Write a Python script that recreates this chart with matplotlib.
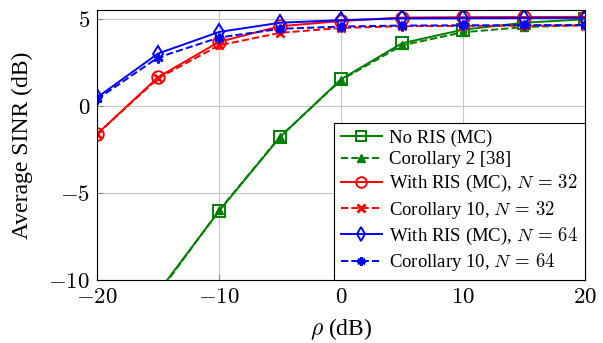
import matplotlib
matplotlib.use("Agg")
import matplotlib.pyplot as plt
import numpy as np

plt.rcParams['font.family'] = 'serif'
plt.rcParams['font.serif'] = ['Liberation Serif', 'DejaVu Serif']
plt.rcParams['mathtext.fontset'] = 'cm'

rho = [-20, -15, -10, -5, 0, 5, 10, 15, 20]
no_ris_mc = [-15.5, -10.7, -6.03, -1.78, 1.55, 3.62, 4.4, 4.8, 5.0]
cor2 = [-15.6, -10.8, -6.0, -1.75, 1.5, 3.5, 4.25, 4.55, 4.66]
ris32_mc = [-1.6, 1.67, 3.7, 4.6, 4.9, 5.1, 5.12, 5.13, 5.14]
cor10_32 = [-1.6, 1.6, 3.5, 4.22, 4.5, 4.6, 4.62, 4.63, 4.64]
ris64_mc = [0.5, 3.03, 4.27, 4.8, 4.95, 5.05, 5.06, 5.07, 5.08]
cor10_64 = [0.4, 2.8, 3.95, 4.45, 4.58, 4.64, 4.65, 4.66, 4.67]

xticks = [-20, -10, 0, 10, 20]
yticks = [-10, -5, 0, 5]
labels = ['No RIS (MC)', 'Corollary 2 [38]', r'With RIS (MC), $N\,=\,32$',
          r'Corollary 10, $N\,=\,32$', r'With RIS (MC), $N\,=\,64$', r'Corollary 10, $N\,=\,64$']

fig = plt.figure(figsize=(6.03, 3.43), dpi=100)
ax = fig.add_axes([0.161, 0.1837, 0.809, 0.788])

g = (0, 0.5, 0)
lw = 1.4
ax.plot(rho, no_ris_mc, '-', color=g, lw=lw, marker='s', ms=8.5, mfc='none', mew=1.4, label=labels[0])
ax.plot(rho, cor2, '--', color=g, lw=lw, marker='^', ms=6, mfc=g, label=labels[1])
ax.plot(rho, ris32_mc, '-', color='red', lw=lw, marker='o', ms=9, mfc='none', mew=1.4, label=labels[2])
ax.plot(rho, cor10_32, '--', color='red', lw=lw, marker='x', ms=6, mew=2, label=labels[3])
ax.plot(rho, ris64_mc, '-', color='blue', lw=lw, marker='d', ms=8.5, mfc='none', mew=1.4, label=labels[4])
ax.plot(rho, cor10_64, '--', color='blue', lw=lw, marker=(6, 2, 0), ms=7, mew=2, label=labels[5])

ax.set_xlim(-20, 20)
ax.set_ylim(-10, 5.55)
ax.set_xticks(xticks)
ax.set_xticklabels([r'$%d$' % v for v in xticks])
ax.set_yticks(yticks)
ax.set_yticklabels([r'$%d$' % v for v in yticks])
ax.grid(True, color='#c8c8c8', lw=0.8)
ax.set_axisbelow(True)
ax.tick_params(direction='in', labelsize=16.5, length=4, color='#888888', pad=5)
for s in ax.spines.values():
    s.set_linewidth(0.8)
ax.set_xlabel(r'$\rho$ (dB)', fontsize=17, labelpad=6)
ax.set_ylabel('Average SINR (dB)', fontsize=17, labelpad=11)

leg = ax.legend(loc='lower right', fontsize=13.5, handlelength=2.2, handletextpad=0.4,
                fancybox=False, edgecolor='black', framealpha=1, borderaxespad=0.0,
                labelspacing=0.25, markerscale=0.85, borderpad=0.35)
leg.get_frame().set_linewidth(0.8)

fig.savefig('out.png', dpi=100)
